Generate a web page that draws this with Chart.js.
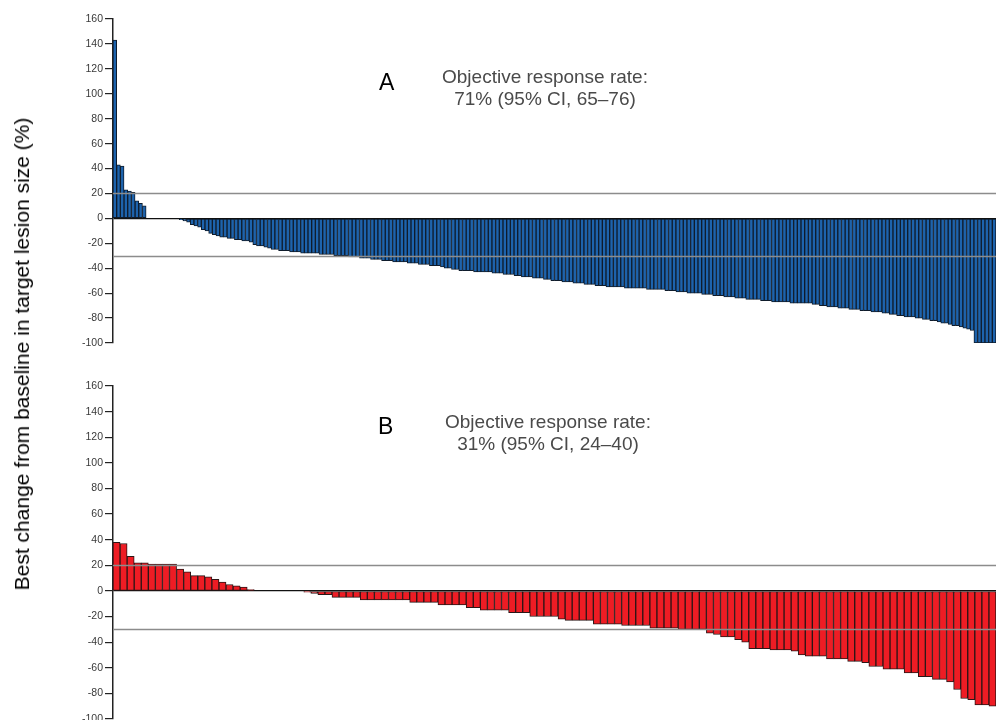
<!DOCTYPE html>
<html>
<head>
<meta charset="utf-8">
<script src="https://cdn.jsdelivr.net/npm/chart.js@4.4.0/dist/chart.umd.min.js"></script>
<style>
  html, body { margin: 0; padding: 0; background: #fff; overflow: hidden; }
  body { width: 996px; height: 720px; position: relative; font-family: "Liberation Sans", Arial, sans-serif; }
  canvas { position: absolute; left: 0; }
  #chartA { top: 0; }
  #chartB { top: 370px; }
  .ytitle {
    position: absolute; left: 22px; top: 354px; white-space: nowrap;
    font-size: 21px; color: #000;
    transform: translate(-50%, -50%) rotate(-90deg);
  }
  .letter { position: absolute; font-size: 23px; color: #000; }
  .orr { position: absolute; width: 260px; text-align: center; font-size: 19px; line-height: 22px; color: #4a4a4a; }
</style>
</head>
<body>
<canvas id="chartA" width="996" height="370"></canvas>
<canvas id="chartB" width="996" height="370"></canvas>
<div class="ytitle">Best change from baseline in target lesion size (%)</div>
<div class="letter" style="left:379px; top:69px;">A</div>
<div class="orr" style="left:415px; top:66px;">Objective response rate:<br>71% (95% CI, 65–76)</div>
<div class="letter" style="left:378px; top:413px;">B</div>
<div class="orr" style="left:418px; top:411px;">Objective response rate:<br>31% (95% CI, 24–40)</div>
<script>
// best % change per patient (sorted waterfall)
const changeA = [
  143, 43, 42, 23, 22, 21, 14, 12, 10,
  0, 0, 0, 0, 0, 0, 0, 0, 0,
  -1, -2, -3, -5, -6, -7, -9, -10, -12, -13, -14, -15, -15, -16,
  -16, -17, -17, -18, -18, -19, -21, -22, -22, -23, -24, -25, -25,
  -26, -26, -26, -27, -27, -27, -28, -28, -28, -28, -28,
  -29, -29, -29, -29, -30, -30, -30, -30, -31, -31, -31,
  -32, -32, -32, -33, -33, -33, -34, -34, -34,
  -35, -35, -35, -35, -36, -36, -36,
  -37, -37, -37, -38, -38, -38, -39,
  -40, -40, -41, -41, -42,
  -42, -42, -42, -43, -43, -43, -43, -43,
  -44, -44, -44, -45, -45, -45, -46,
  -46, -47, -47, -47, -48,
  -48, -48, -49, -49, -50, -50,
  -50, -51, -51, -51, -52, -52,
  -52, -53, -53, -53, -54, -54, -54, -55, -55,
  -55, -55, -55, -56, -56, -56, -56, -56, -56, -57, -57, -57, -57, -57,
  -58, -58, -58, -59, -59,
  -59, -60, -60, -60, -60, -61, -61,
  -61, -62, -62, -62, -63, -63, -63,
  -64, -64, -64, -65, -65, -65,
  -65, -66, -66, -66, -67, -67, -67,
  -67, -67, -68, -68, -68, -68, -68, -68,
  -69, -69, -70, -70, -71,
  -71, -71, -72, -72, -72, -73, -73,
  -73, -74, -74, -74, -75, -75, -75,
  -76, -76, -77, -77, -78, -78, -79, -79,
  -79, -80, -80, -81, -81, -82, -82,
  -83, -84, -84, -85,
  -86, -86, -87,
  -88, -89, -90,
  -100, -100, -100, -100, -100, -100
];

const changeB = [
  38, 37, 27, 22, 22, 21, 21, 21, 21, 17, 15, 12, 12, 11, 9, 7, 5, 4, 3, 1,
  0, 0, 0, 0, 0, 0, 0,
  -1, -2, -3, -3, -5, -5, -5, -5,
  -7, -7, -7, -7, -7, -7, -7,
  -9, -9, -9, -9, -11, -11, -11, -11, -13, -13,
  -15, -15, -15, -15, -17, -17, -17,
  -20, -20, -20, -20, -22, -23, -23, -23, -23,
  -26, -26, -26, -26, -27, -27, -27, -27,
  -29, -29, -29, -29, -30, -30, -30, -30,
  -33, -34, -36, -36, -38, -40,
  -45, -45, -45, -46, -46, -46, -47,
  -50, -51, -51, -51, -53, -53, -53, -55, -55, -56,
  -59, -59, -61, -61, -61, -64, -64, -67, -67, -69, -69, -71,
  -77, -84, -85, -89, -89, -90
];

const yMin = -100;
const yMax = 160;
const yStep = 20;
const refLevels = [20, -30];   // progression / response cut-offs

const refLines = {
  id: 'refLines',
  afterDatasetsDraw(chart, args, opts) {
    const { ctx, chartArea, scales } = chart;
    ctx.save();
    ctx.strokeStyle = opts.color;
    ctx.lineWidth = 1.5;
    opts.levels.forEach(v => {
      const y = Math.round(scales.y.getPixelForValue(v)) + 0.5;
      ctx.beginPath();
      ctx.moveTo(chartArea.left, y);
      ctx.lineTo(chartArea.right, y);
      ctx.stroke();
    });
    ctx.restore();
  }
};

function makeWaterfall(id, values, fill, edge, padTop, padBottom) {
  const ctx = document.getElementById(id).getContext('2d');
  return new Chart(ctx, {
    type: 'bar',
    data: {
      labels: values.map((v, i) => i + 1),
      datasets: [{
        data: values,
        backgroundColor: fill,
        borderColor: edge,
        borderWidth: 1,
        borderSkipped: false,
        barPercentage: 1,
        categoryPercentage: 1
      }]
    },
    options: {
      responsive: false,
      animation: false,
      devicePixelRatio: 1,
      layout: { padding: { top: padTop, bottom: padBottom, left: 0, right: 0 } },
      plugins: {
        legend: { display: false },
        tooltip: { enabled: false },
        refLines: { levels: refLevels, color: '#8c8c8c' }
      },
      scales: {
        x: { display: false },
        y: {
          min: yMin,
          max: yMax,
          afterFit: s => { s.width = 113; },
          ticks: {
            stepSize: yStep,
            color: '#3a3a3a',
            padding: 2,
            font: { family: 'Liberation Sans', size: 10.5 }
          },
          grid: {
            color: c => (c.tick && c.tick.value === 0 ? '#111' : 'rgba(0,0,0,0)'),
            tickColor: '#222',
            tickLength: 8,
            lineWidth: 1.2
          },
          border: { color: '#222', width: 1.5 }
        }
      }
    },
    plugins: [refLines]
  });
}

makeWaterfall('chartA', changeA, '#1d63ad', '#0f1c2c', 19, 27);
makeWaterfall('chartB', changeB, '#ee1c24', '#2b1616', 16, 21);
</script>
</body>
</html>
